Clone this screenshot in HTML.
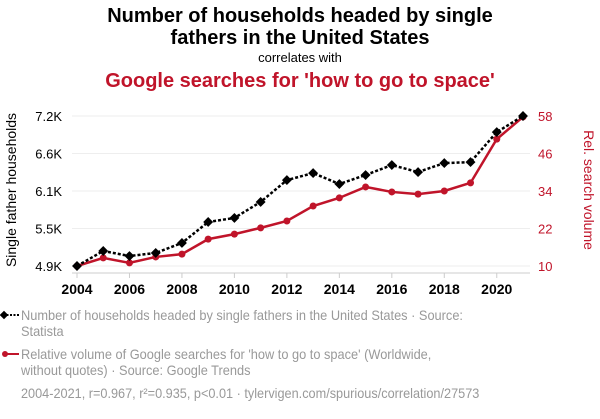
<!DOCTYPE html>
<html><head><meta charset="utf-8"><style>
body{margin:0;background:#fff;width:600px;height:414px;overflow:hidden;font-family:"Liberation Sans",sans-serif}
svg text{font-family:"Liberation Sans",sans-serif}
</style></head><body>
<svg id="c" width="600" height="414">
<text x="300" y="22" text-anchor="middle" font-size="20" font-weight="bold" fill="#000">Number of households headed by single</text>
<text x="300" y="44" text-anchor="middle" font-size="20" font-weight="bold" fill="#000">fathers in the United States</text>
<text x="300" y="62" text-anchor="middle" font-size="13" fill="#000">correlates with</text>
<text x="300" y="87" text-anchor="middle" font-size="20" font-weight="bold" fill="#c0142a">Google searches for 'how to go to space'</text>
<g id="grid"></g><g id="axes"></g><g id="series"></g>
<text transform="translate(16,190) rotate(-90)" text-anchor="middle" font-size="14" fill="#000">Single father households</text>
<text transform="translate(584,190) rotate(90)" text-anchor="middle" font-size="14" fill="#c0142a">Rel. search volume</text>
<g>
<line x1="3" y1="315" x2="19" y2="315" stroke="#000" stroke-width="2" stroke-dasharray="2,1.5"/>
<rect x="1" y="312" width="6" height="6" transform="rotate(45 4 315)" fill="#000"/>
<text x="21" y="320" font-size="12.8" fill="#999" transform="translate(0,-32) scale(1,1.1)">Number of households headed by single fathers in the United States · Source:</text>
<text x="21" y="336" font-size="12.8" fill="#999" transform="translate(0,-33.6) scale(1,1.1)">Statista</text></g>
<g>
<line x1="3" y1="354" x2="19" y2="354" stroke="#c0142a" stroke-width="2"/>
<circle cx="5" cy="354" r="3" fill="#c0142a"/>
<text x="21" y="359" font-size="12.8" fill="#999" transform="translate(0,-35.9) scale(1,1.1)">Relative volume of Google searches for 'how to go to space' (Worldwide,</text>
<text x="21" y="375" font-size="12.8" fill="#999" transform="translate(0,-37.5) scale(1,1.1)">without quotes) · Source: Google Trends</text></g>
<text x="21" y="398" font-size="12.7" fill="#999" transform="translate(0,-39.8) scale(1,1.1)">2004-2021, r=0.967, r²=0.935, p&lt;0.01 · tylervigen.com/spurious/correlation/27573</text>
</svg>
<script>
const years=[2004,2005,2006,2007,2008,2009,2010,2011,2012,2013,2014,2015,2016,2017,2018,2019,2020,2021];
const fathers=[4900,5130,5053,5100,5253,5575,5637,5882,6217,6325,6157,6295,6448,6340,6478,6493,6953,7200];
const searches=[10,12.6,11,12.9,13.8,18.6,20.2,22.2,24.4,29.2,31.8,35.3,33.7,33,34,36.6,50.6,57.7];
const leftTicks=["4.9K","5.5K","6.1K","6.6K","7.2K"];
const rightTicks=[10,22,34,46,58];
const xTicks=[2004,2006,2008,2010,2012,2014,2016,2018,2020];
const NS="http://www.w3.org/2000/svg";
const X=y=>77+(y-2004)*(523-77)/17;
const YL=v=>266-(v-4900)/2300*150;
const YR=v=>266-(v-10)/48*150;
function mk(t,a,p){const e=document.createElementNS(NS,t);for(const k in a)e.setAttribute(k,a[k]);p.appendChild(e);return e;}
const g=document.getElementById('grid'),ax=document.getElementById('axes'),s=document.getElementById('series');
rightTicks.forEach((v,i)=>{
 const y=YR(v);
 const l=mk('line',{x1:72,x2:530,y1:y,y2:y,stroke:'#eee','stroke-width':1},g);
 
 
 const t=mk('text',{x:62,y:y+5,'text-anchor':'end','font-size':13,fill:'#000'},ax);t.textContent=leftTicks[i];
 
 
 const r=mk('text',{x:538,y:y+5,'font-size':13,fill:'#c0142a'},ax);r.textContent=v;
 
 
});
const xa=mk('line',{x1:72,x2:530,y1:273,y2:273,stroke:'#ccc','stroke-width':1},ax);


xTicks.forEach(y=>{
 mk('line',{x1:X(y),x2:X(y),y1:273,y2:278,stroke:'#ccc'},ax);
 const t=mk('text',{x:X(y),y:294,'text-anchor':'middle','font-size':14,'font-weight':'bold',fill:'#000'},ax);t.textContent=y;
 
 
});
const rp=mk('polyline',{points:years.map((y,i)=>X(y)+','+YR(searches[i])).join(' '),fill:'none',stroke:'#c0142a','stroke-width':2.5},s);


years.forEach((y,i)=>{const c=mk('circle',{cx:X(y),cy:YR(searches[i]),r:3.5,fill:'#c0142a'},s);
 
 });
const bp=mk('polyline',{points:years.map((y,i)=>X(y)+','+YL(fathers[i])).join(' '),fill:'none',stroke:'#000','stroke-width':2.5,'stroke-dasharray':'3,2'},s);


years.forEach((y,i)=>{const cx=X(y),cy=YL(fathers[i]);
 const d=mk('rect',{x:cx-3.5,y:cy-3.5,width:7,height:7,fill:'#000',transform:`rotate(45 ${cx} ${cy})`},s);
 
 });
</script>
</body></html>
